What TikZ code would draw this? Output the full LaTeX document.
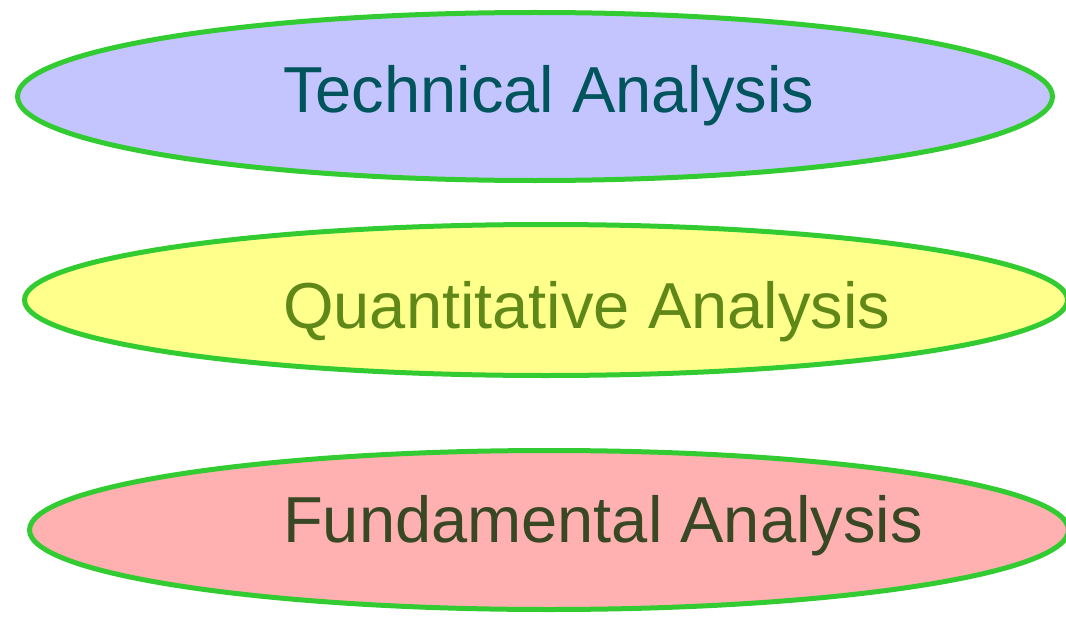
\documentclass[tikz,border=0pt]{standalone}
\usepackage{fontspec}
\setmainfont{Liberation Sans}
\usetikzlibrary{shapes.geometric}
\definecolor{ovalgreen}{RGB}{50,204,50}
\definecolor{techfill}{RGB}{196,196,255}
\definecolor{quantfill}{RGB}{255,255,140}
\definecolor{fundfill}{RGB}{255,176,176}
\definecolor{techtext}{RGB}{0,84,92}
\definecolor{quanttext}{RGB}{96,136,24}
\definecolor{fundtext}{RGB}{56,72,36}
\begin{document}
\begin{tikzpicture}[
    x = 1pt,
    y = -1pt,
    oval/.style = {ellipse, draw=ovalgreen, line width=5pt,
    inner sep=0pt, outer sep=0pt},
    caption/.style = {anchor=base west, inner sep=0pt,
    font=\fontsize{65}{78}\selectfont},
]

\useasboundingbox (0,0) rectangle (1066,618);
\clip (0,0) rectangle (1066,618);

\node[oval, fill=techfill, minimum width=1035pt, minimum height=168pt] (tech) at (535,96.5){};
\node[oval, fill=quantfill, minimum width=1043pt, minimum height=151pt] (quant) at (546,300){};
\node[oval, fill=fundfill, minimum width=1039pt, minimum height=159pt] (fund) at (549,530){};

\node[caption, text=techtext] (tech_txt) at (283,112){Technical Analysis};
\node[caption, text=quanttext] (quant_txt) at (283,328){Quantitative Analysis};
\node[caption, text=fundtext] (fund_txt) at (283,542){Fundamental Analysis};
\end{tikzpicture}
\end{document}
